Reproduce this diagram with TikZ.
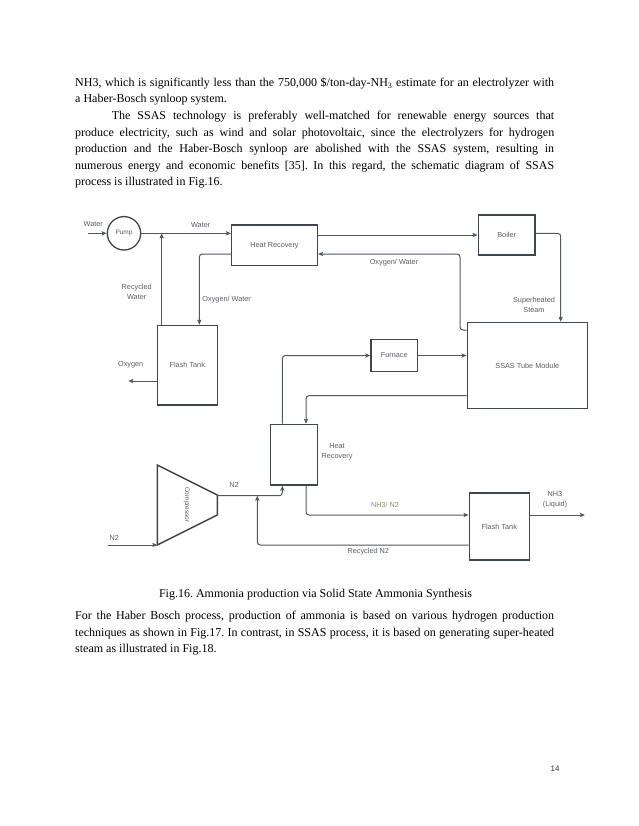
\documentclass[tikz,border=0pt]{standalone}
\usepackage{fontspec}
\setmainfont{Liberation Serif}
\newfontfamily\dfont{Liberation Sans}
\usetikzlibrary{arrows.meta}
\definecolor{linec}{HTML}{4F5763}
\definecolor{boxc}{HTML}{3E4651}
\definecolor{txtc}{HTML}{5A5E66}
\definecolor{olivec}{HTML}{8E8E72}
\newcommand{\jline}[2]{\makebox[#1][s]{#2}}
\frenchspacing
\begin{document}
\begin{tikzpicture}[x=1pt,y=-1pt,
  box/.style={draw=boxc,line width=1.5pt,inner sep=0pt,font=\dfont\fontsize{7.3}{8.5}\selectfont,text=txtc,align=center},
  conn/.style={draw=linec,line width=1pt,rounded corners=3pt,-{Stealth[length=5pt,width=4.2pt,inset=1pt]}},
  lbl/.style={font=\dfont\fontsize{7.3}{9.6}\selectfont,text=txtc,align=center,inner sep=0pt},
  para/.style={anchor=base west,inner sep=0pt,font=\fontsize{12}{14}\selectfont}
]
\useasboundingbox[fill=white] (0,0) rectangle (638,826);

% ---------- text above ----------
\node[para] (p1) at (75,86.3) {\jline{479pt}{NH3, which is significantly less than the 750,000 \$/ton-day-NH\textsubscript{3} estimate for an electrolyzer with}};
\node[para] (p2) at (75,102.9) {a Haber-Bosch synloop system.};
\node[para] (p3) at (111.7,119.5) {\jline{442.3pt}{The SSAS technology is preferably well-matched for renewable energy sources that}};
\node[para] (p4) at (75,136.1) {\jline{479pt}{produce electricity, such as wind and solar photovoltaic, since the electrolyzers for hydrogen}};
\node[para] (p5) at (75,152.7) {\jline{479pt}{production and the Haber-Bosch synloop are abolished with the SSAS system, resulting in}};
\node[para] (p6) at (75,169.3) {\jline{479pt}{numerous energy and economic benefits [35]. In this regard, the schematic diagram of SSAS}};
\node[para] (p7) at (75,185.9) {process is illustrated in Fig.16.};

% ---------- boxes ----------
\node[circle,draw=boxc,line width=1.3pt,minimum size=33.4pt,inner sep=0pt,font=\dfont\fontsize{6.5}{8}\selectfont,text=txtc] (pump) at (124,233.3) {Pump};
\node[box,minimum width=85.6pt,minimum height=40.7pt] (hr1) at (274.5,245.3) {Heat Recovery};
\node[box,minimum width=56.7pt,minimum height=40pt] (boil) at (506.7,235) {Boiler};
\node[box,minimum width=60pt,minimum height=79.5pt] (ft1) at (187.3,365.2) {Flash Tank};
\node[box,minimum width=46.3pt,minimum height=32.4pt] (furn) at (394.2,355.5) {Furnace};
\node[box,minimum width=120pt,minimum height=85.8pt] (ssas) at (527.3,365.4) {SSAS Tube Module};
\node[box,minimum width=46.8pt,minimum height=60.5pt] (hr2) at (293.9,454.7) {};
\node[box,minimum width=60pt,minimum height=67.3pt] (ft2) at (499.3,526.4) {Flash Tank};

% compressor
\coordinate (c1) at (157.3,465);
\coordinate (c2) at (217.3,495);
\coordinate (c3) at (217.3,515);
\coordinate (c4) at (157.3,545);
\draw[boxc,line width=1.5pt,line join=miter] (c1)--(c2)--(c3)--(c4)--cycle;
\node[lbl,rotate=-90,font=\dfont\fontsize{6.5}{8}\selectfont] (comp) at (186.7,505) {Compressor};

% ---------- connectors ----------
\coordinate (win) at (88,233.3);
\draw[conn] (win) -- (pump.west);
\node[lbl] (lwin) at (93.3,224) {Water};

\draw[conn] (pump.east) -- (hr1.west |- pump.east);
\node[lbl] (lw2) at (200.7,225) {Water};

\draw[conn] (161.7,0 |- ft1.north) -- (161.7,0 |- pump.east);
\node[lbl] (lrw) at (136.7,291.7) {Recycled\\Water};

\draw[conn] (hr1.west |- 0,254) -| (199.3,0 |- ft1.north);
\node[lbl] (low1) at (226.7,299.3) {Oxygen/ Water};

\draw[conn] (hr1.east |- boil.west) -- (boil.west);

\draw[conn] (ssas.west |- 0,330) -| (460,254) -- (hr1.east |- 0,254);
\node[lbl] (low2) at (394,262.3) {Oxygen/ Water};

\draw[conn] (boil.east |- 0,233.3) -| (ssas.north -| 560.7,0);
\node[lbl] (lss) at (534,305) {Superheated\\Steam};

\coordinate (oxout) at (128.3,381);
\draw[conn] (ft1.west |- oxout) -- (oxout);
\node[lbl] (lox) at (130.7,365) {Oxygen};

\draw[conn] (282.3,0 |- hr2.north) |- (furn.west);
\draw[conn] (furn.east) -- (ssas.west |- furn.east);
\draw[conn] (ssas.west |- 0,395.7) -| (306,0 |- hr2.north);
\node[lbl] (lhr2) at (337,452) {Heat\\Recovery};

\draw[conn] (c2 |- 0,495.7) -| (282.3,0 |- hr2.south);
\node[lbl] (ln2a) at (234,485) {N2};

\coordinate (nin) at (108.3,545);
\draw[conn] (nin) -- (c4);
\node[lbl] (ln2b) at (114.3,538.3) {N2};

\draw[conn] (306,0 |- hr2.south) |- (ft2.west |- 0,515);
\node[lbl,text=olivec] (lnh3n2) at (385,505) {NH3/ N2};

\coordinate (jn) at (257.3,495.7);
\draw[conn] (ft2.west |- 0,545) -| (jn);
\node[lbl] (lrn2) at (368.3,551.7) {Recycled N2};

\coordinate (nh3out) at (585,515);
\draw[conn] (ft2.east |- nh3out) -- (nh3out);
\node[lbl] (lnh3) at (555,500) {NH3\\(Liquid)};

% ---------- caption and text below ----------
\node[anchor=base,inner sep=0pt,font=\fontsize{12}{14}\selectfont] (cap) at (315.5,597.7) {Fig.16. Ammonia production via Solid State Ammonia Synthesis};
\node[para] (q1) at (75,619.3) {\jline{479pt}{For the Haber Bosch process, production of ammonia is based on various hydrogen production}};
\node[para] (q2) at (75,636) {\jline{479pt}{techniques as shown in Fig.17. In contrast, in SSAS process, it is based on generating super-heated}};
\node[para] (q3) at (75,652.7) {steam as illustrated in Fig.18.};

\node[anchor=base,inner sep=0pt,font=\dfont\fontsize{8}{9}\selectfont,text=black!80] (pg) at (555,771) {14};
\end{tikzpicture}
\end{document}
